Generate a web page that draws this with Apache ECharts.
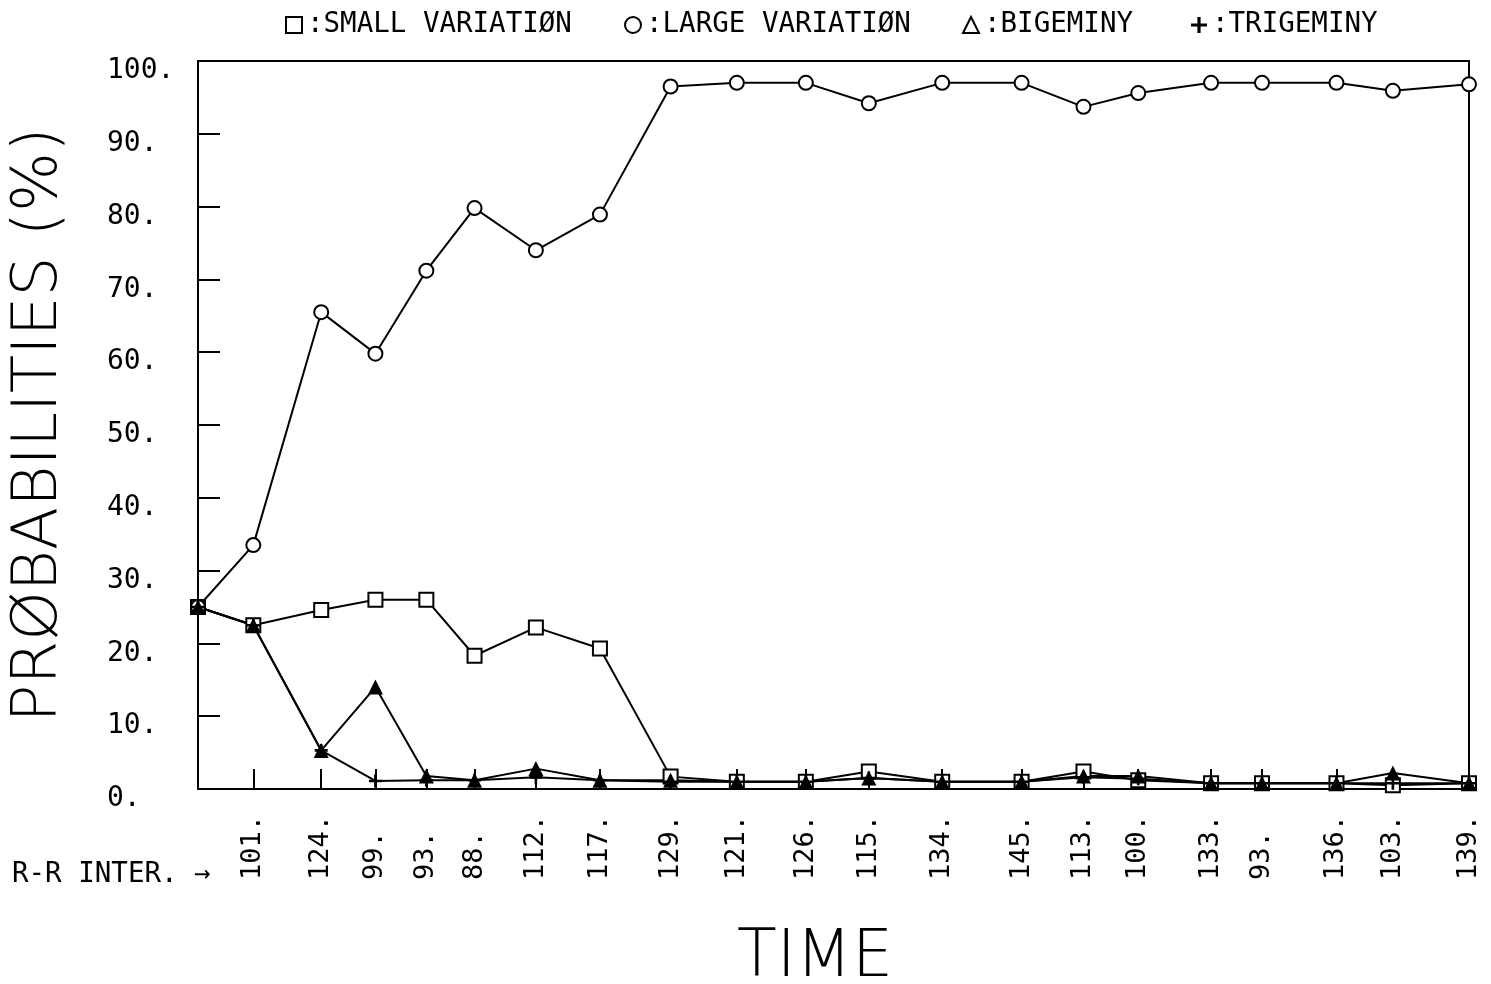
<!DOCTYPE html>
<html>
<head>
<meta charset="utf-8">
<script src="https://cdn.jsdelivr.net/npm/echarts@6/dist/echarts.min.js"></script>
<style>
  html, body { margin: 0; padding: 0; background: #fff; }
  #chart { width: 1491px; height: 984px; }
</style>
</head>
<body>
<div id="chart"></div>
<script>
// R-R intervals between successive beats; the time axis is their running sum
const rrIntervals = [101, 124, 99, 93, 88, 112, 117, 129, 121, 126, 115, 134, 145, 113, 100, 133, 93, 136, 103, 139];
const rrLabels = rrIntervals.map(v => v + '.');

// Probabilities (%) of each rhythm class at every beat (first value is the prior)
const smallVariation = [25, 22.5, 24.6, 26.0, 26.0, 18.3, 22.2, 19.3, 1.7, 1.0, 1.0, 2.4, 1.0, 1.0, 2.4, 1.2, 0.8, 0.8, 0.8, 0.5, 0.8];
const largeVariation = [25, 33.5, 65.5, 59.8, 71.2, 79.8, 74.0, 78.9, 96.5, 97.0, 97.0, 94.2, 97.0, 97.0, 93.7, 95.6, 97.0, 97.0, 97.0, 95.9, 96.8];
const bigeminy       = [25, 22.5, 5.3, 14.0, 1.8, 1.2, 2.8, 1.2, 1.2, 1.0, 1.0, 1.5, 1.0, 1.0, 1.8, 1.8, 0.8, 0.8, 0.8, 2.2, 0.8];
const trigeminy      = [25, 22.5, 5.3, 1.1, 1.2, 1.2, 1.6, 1.2, 1.0, 1.0, 1.0, 1.5, 1.0, 1.0, 1.6, 1.4, 0.8, 0.8, 0.8, 0.8, 0.8];

const yTicks = [0, 10, 20, 30, 40, 50, 60, 70, 80, 90, 100];

// cumulative time of each beat
const beatTimes = [0];
rrIntervals.forEach(v => beatTimes.push(beatTimes[beatTimes.length - 1] + v));
const tickTimes = beatTimes.slice(1);
const totalTime = beatTimes[beatTimes.length - 1];

const FONT = '"DejaVu Sans Mono", "Liberation Mono", monospace';
const THIN = '"DejaVu Sans", "Noto Sans", sans-serif';
const plusPath = 'path://M4,0H6V4H10V6H6V10H4V6H0V4H4Z';

function pairs(values) {
  return values.map((v, i) => [beatTimes[i], v]);
}

function lineSeries(name, values, symbol, size, itemStyle) {
  return {
    name: name,
    type: 'line',
    data: pairs(values),
    symbol: symbol,
    symbolSize: size,
    showAllSymbol: true,
    lineStyle: { color: '#000', width: 2 },
    itemStyle: itemStyle,
    emphasis: { disabled: true },
    animation: false
  };
}

function legendItem(name, left, icon, itemStyle) {
  return {
    left: left,
    top: 6,
    itemWidth: 16,
    itemHeight: 16,
    itemGap: 10,
    selectedMode: false,
    data: [{ name: name, icon: icon, itemStyle: itemStyle }],
    formatter: n => ':' + n,
    textStyle: { fontFamily: FONT, fontSize: 27.5, color: '#000', padding: [3, 0, 0, 0] }
  };
}

const hollow = { color: '#fff', borderColor: '#000', borderWidth: 2 };
const solid = { color: '#000', borderColor: '#000', borderWidth: 0 };

const chart = echarts.init(document.getElementById('chart'), null, { renderer: 'canvas' });

chart.setOption({
  backgroundColor: '#fff',
  animation: false,
  legend: [
    legendItem('SMALL VARIATIØN', 280, 'rect', hollow),
    legendItem('LARGE VARIATIØN', 619, 'circle', hollow),
    legendItem('BIGEMINY', 957, 'triangle', hollow),
    legendItem('TRIGEMINY', 1186, plusPath, solid)
  ],
  grid: {
    left: 198,
    right: 22,
    top: 61,
    bottom: 195,
    show: true,
    borderColor: '#000',
    borderWidth: 2,
    backgroundColor: 'transparent'
  },
  xAxis: {
    type: 'value',
    min: 0,
    max: totalTime,
    splitLine: { show: false },
    axisLine: { lineStyle: { color: '#000', width: 2 } },
    axisTick: {
      inside: true,
      length: 20,
      customValues: tickTimes,
      lineStyle: { color: '#000', width: 2 }
    },
    axisLabel: {
      customValues: tickTimes,
      rotate: 90,
      align: 'left',
      margin: 91,
      fontFamily: FONT,
      fontSize: 27,
      color: '#000',
      formatter: v => {
        const i = tickTimes.indexOf(v);
        return i >= 0 ? rrLabels[i] : '';
      }
    }
  },
  yAxis: {
    type: 'value',
    min: 0,
    max: 100,
    interval: 10,
    splitLine: { show: false },
    axisLine: { lineStyle: { color: '#000', width: 2 } },
    axisTick: {
      inside: true,
      length: 22,
      lineStyle: { color: '#000', width: 2 }
    },
    axisLabel: {
      align: 'left',
      verticalAlign: 'top',
      lineHeight: 20,
      margin: 91,
      fontFamily: FONT,
      fontSize: 28,
      color: '#000',
      formatter: v => (yTicks.indexOf(v) >= 0 ? v + '.' : '')
    }
  },
  series: [
    lineSeries('SMALL VARIATIØN', smallVariation, 'emptyRect', 14, { color: '#000', borderWidth: 2 }),
    lineSeries('LARGE VARIATIØN', largeVariation, 'emptyCircle', 14, { color: '#000', borderWidth: 2 }),
    lineSeries('BIGEMINY', bigeminy, 'triangle', 15, { color: '#000' }),
    lineSeries('TRIGEMINY', trigeminy, plusPath, 13, { color: '#000' })
  ],
  graphic: [
    {
      type: 'text',
      left: 12,
      top: 861,
      style: { text: 'R-R INTER. →', font: '27.5px ' + FONT, fill: '#000' }
    },
    {
      type: 'text',
      x: 40,
      y: 425,
      rotation: Math.PI / 2,
      style: {
        text: 'PRØBABILITIES (%)',
        font: '200 63px ' + THIN,
        fill: '#000',
        align: 'center',
        verticalAlign: 'middle'
      }
    },
    {
      type: 'text',
      x: 815,
      y: 959,
      style: {
        text: 'TIME',
        font: '200 65px ' + THIN,
        fill: '#000',
        align: 'center',
        verticalAlign: 'middle'
      }
    }
  ]
});
</script>
</body>
</html>
